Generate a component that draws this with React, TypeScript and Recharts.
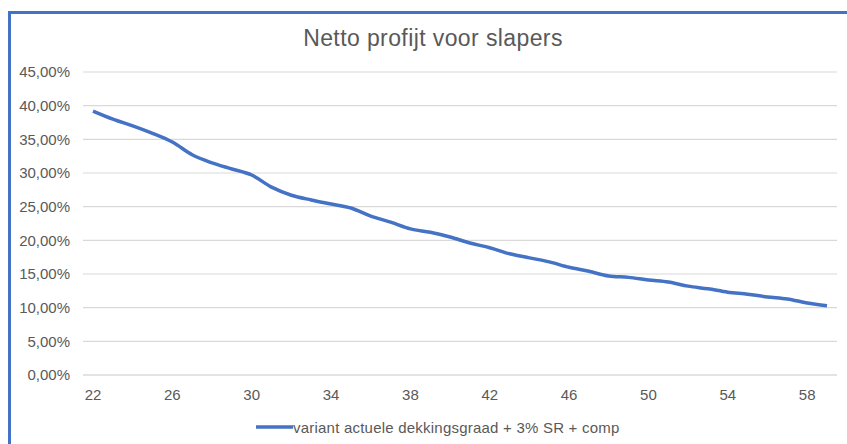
import { LineChart, Line, XAxis, YAxis, CartesianGrid, Legend } from 'recharts';

const ages = [
  22, 23, 24, 25, 26, 27, 28, 29, 30, 31, 32, 33, 34, 35, 36, 37, 38, 39, 40,
  41, 42, 43, 44, 45, 46, 47, 48, 49, 50, 51, 52, 53, 54, 55, 56, 57, 58, 59,
];

const profijt = [
  39.2, 38.0, 37.0, 35.9, 34.6, 32.7, 31.5, 30.6, 29.7, 27.9, 26.7, 26.0, 25.4,
  24.8, 23.6, 22.7, 21.7, 21.2, 20.5, 19.6, 18.9, 18.0, 17.4, 16.8, 16.0, 15.4,
  14.7, 14.5, 14.1, 13.8, 13.2, 12.8, 12.3, 12.0, 11.6, 11.3, 10.7, 10.3,
];

const yTicks = [0, 5, 10, 15, 20, 25, 30, 35, 40, 45];

const seriesName = 'variant actuele dekkingsgraad + 3% SR + comp';
const title = 'Netto profijt voor slapers';

const data = ages.map((age, i) => ({ age, value: profijt[i] }));

const font = '"Liberation Sans", Arial, sans-serif';
const textColor = '#595959';
const blue = '#4472C4';

const pct = (v: number) => v.toFixed(2).replace('.', ',') + '%';

function LegendContent() {
  return (
    <div style={{ height: 34, paddingTop: 10, boxSizing: 'border-box', paddingLeft: 256, display: 'flex', alignItems: 'center' }}>
      <svg width={37} height={6} style={{ display: 'block' }}>
        <line x1={0} y1={3} x2={37} y2={3} stroke={blue} strokeWidth={3.5} />
      </svg>
      <span style={{ fontFamily: font, fontSize: 15, letterSpacing: 0.22, color: textColor, whiteSpace: 'nowrap' }}>{seriesName}</span>
    </div>
  );
}

export default function App() {
  return (
    <div style={{ position: 'absolute', left: 0, top: 0, width: 847, height: 444, overflow: 'hidden', background: '#fff' }}>
      <div style={{ position: 'absolute', left: 8, top: 11, width: 900, height: 500, borderLeft: `3px solid ${blue}`, borderTop: `3px solid ${blue}` }} />
      <div style={{ position: 'absolute', left: 8, top: 25, width: 850, textAlign: 'center', fontFamily: font, fontSize: 23, letterSpacing: 0.4, color: textColor, lineHeight: '26px' }}>
        {title}
      </div>
      <div style={{ position: 'absolute', left: 0, top: 0 }}>
        <LineChart width={847} height={444} data={data} margin={{ top: 72, right: 10, left: 0, bottom: 5 }}>
          <CartesianGrid vertical={false} stroke="#D9D9D9" strokeWidth={1.2} />
          <XAxis
            dataKey="age"
            interval={3}
            padding={{ left: 10, right: 10 }}
            height={30}
            tickSize={0}
            tickMargin={14}
            axisLine={{ stroke: '#D9D9D9', strokeWidth: 1.2 }}
            tickLine={false}
            tick={{ fill: textColor, fontSize: 15, fontFamily: font }}
          />
          <YAxis
            width={83}
            domain={[0, 45]}
            ticks={yTicks}
            tickFormatter={pct}
            tickSize={0}
            tickMargin={13}
            axisLine={false}
            tickLine={false}
            tick={{ fill: textColor, fontSize: 15, fontFamily: font }}
          />
          <Legend verticalAlign="bottom" height={34} content={() => <LegendContent />} wrapperStyle={{ left: 0, width: 847 }} />
          <Line
            type="monotone"
            dataKey="value"
            name={seriesName}
            stroke={blue}
            strokeWidth={3.5}
            dot={false}
            activeDot={false}
            isAnimationActive={false}
          />
        </LineChart>
      </div>
    </div>
  );
}
